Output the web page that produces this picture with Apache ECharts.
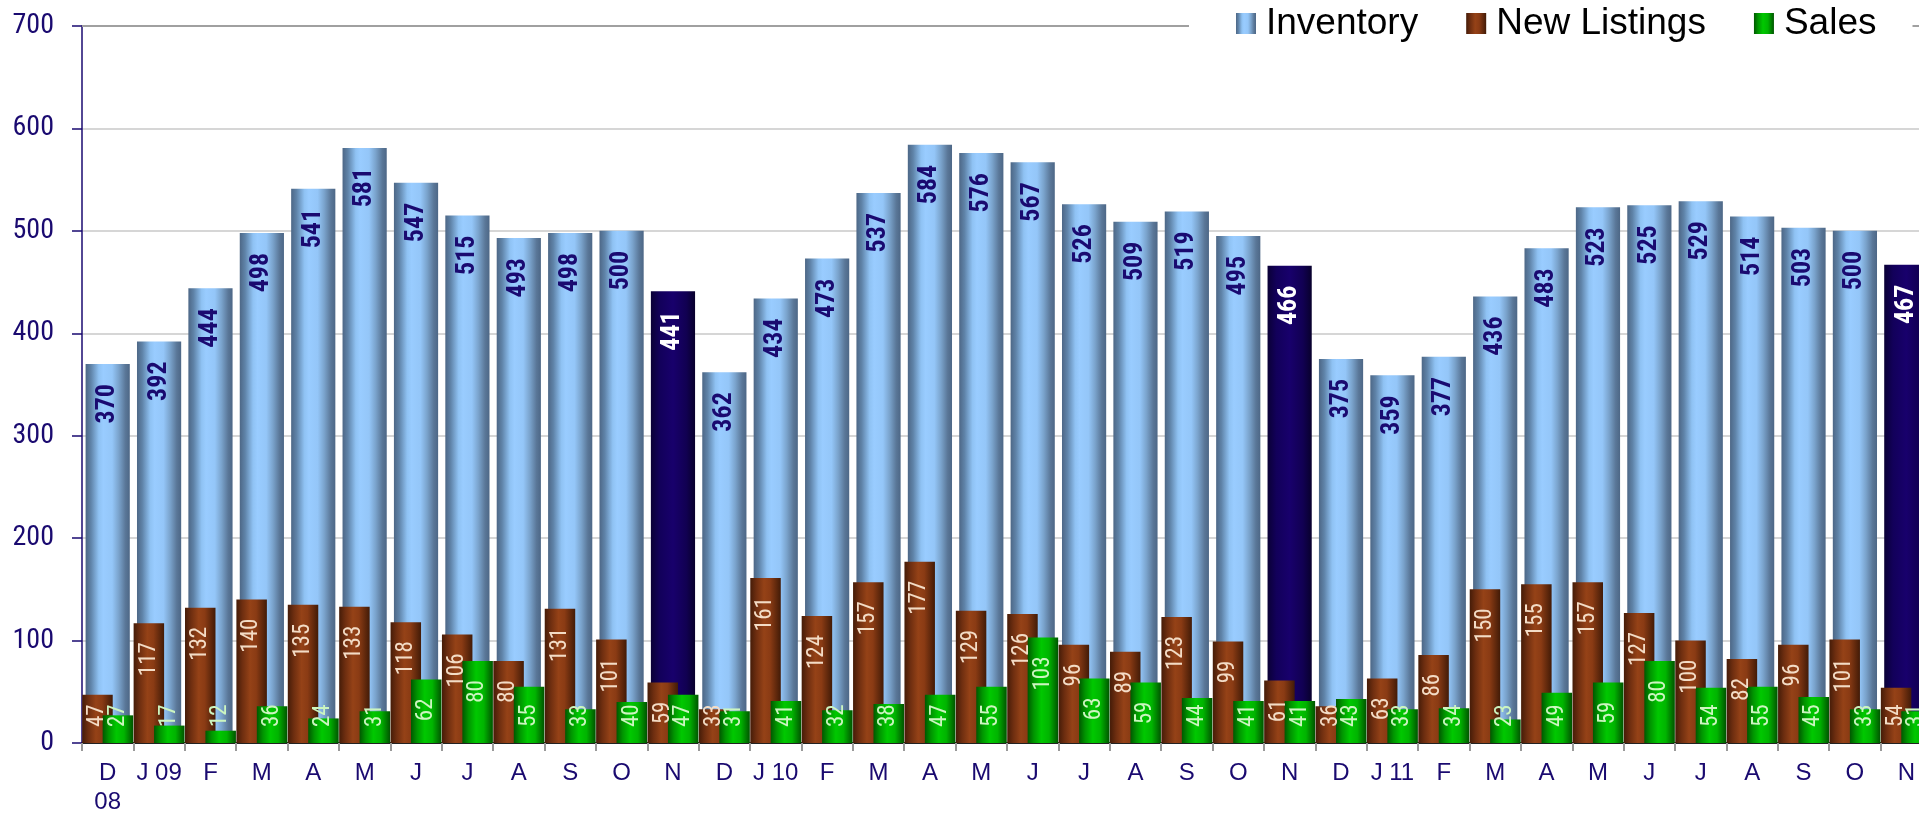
<!DOCTYPE html>
<html>
<head>
<meta charset="utf-8">
<script src="https://cdn.jsdelivr.net/npm/echarts@6/dist/echarts.min.js"></script>
<style>
html,body{margin:0;padding:0;overflow:hidden;background:#fff;}
#chart{width:1932px;height:817px;}
</style>
</head>
<body>
<div id="chart"></div>
<script>
// ---- data ----
const categories = ['D\n08','J 09','F','M','A','M','J','J','A','S','O','N',
                    'D','J 10','F','M','A','M','J','J','A','S','O','N',
                    'D','J 11','F','M','A','M','J','J','A','S','O','N'];
const inventory   = [370,392,444,498,541,581,547,515,493,498,500,441,
                     362,434,473,537,584,576,567,526,509,519,495,466,
                     375,359,377,436,483,523,525,529,514,503,500,467];
const newListings = [47,117,132,140,135,133,118,106,80,131,101,59,
                     33,161,124,157,177,129,126,96,89,123,99,61,
                     36,63,86,150,155,157,127,100,82,96,101,54];
const sales       = [27,17,12,36,24,31,62,80,55,33,40,47,
                     31,41,32,38,47,55,103,63,59,44,41,41,
                     43,33,34,23,49,59,80,54,55,45,33,31];
const yTicks = {min:0, max:700, interval:100};

// ---- styles ----
const NARROW = "'Roboto Condensed','Liberation Sans',Arial,sans-serif";
const SANS = "'Liberation Sans',Arial,sans-serif";
const NAVY = '#1a0a70';
function grad(stops){
  return new echarts.graphic.LinearGradient(0,0,1,0, stops.map(s=>({offset:s[0],color:s[1]})));
}
const invGrad = grad([[0,'#4d6786'],[0.12,'#5f83a8'],[0.3,'#8fc2f3'],[0.4,'#99ccff'],[0.6,'#94c6f8'],[0.75,'#7aa3cc'],[0.9,'#5a7798'],[1,'#4d6786']]);
const novGrad = grad([[0,'#0a0036'],[0.2,'#12005a'],[0.5,'#18006c'],[0.8,'#110052'],[1,'#08002c']]);
const brownGrad = grad([[0,'#451c08'],[0.2,'#6e2e10'],[0.45,'#954217'],[0.65,'#8a3b14'],[1,'#421b07']]);
const greenGrad = grad([[0,'#005800'],[0.2,'#009400'],[0.45,'#00c800'],[0.7,'#00b400'],[1,'#005400']]);

function shortLabel(v){
  // labels of short bars sit at the base instead of the top
  const len = String(v).length;
  return v < 35 + 11*len;
}
const baseLabel = {position:'insideBottom', align:'left', distance:16};

const invData = inventory.map((v,i)=> categories[i]==='N'
  ? {value:v, itemStyle:{color:novGrad}, label:{color:'#ffffff'}}
  : v);
const nlData = newListings.map(v=> shortLabel(v) ? {value:v, label:baseLabel} : v);
const salesData = sales.map(v=> shortLabel(v) ? {value:v, label:baseLabel} : v);

const topLabel = {show:true, rotate:90, position:'insideTop', distance:20, align:'right', verticalAlign:'middle'};

const chart = echarts.init(document.getElementById('chart'), null, {renderer:'canvas'});
chart.setOption({
  animation:false,
  grid:{left:82, right:0, top:26, bottom:71, containLabel:false},
  legend:{
    data:['Inventory','New Listings','Sales'],
    left:1189, top:3,
    padding:[2,36,2,47],
    backgroundColor:'#ffffff',
    itemWidth:20, itemHeight:21, itemGap:48,
    icon:'rect',
    textStyle:{fontFamily:SANS, fontSize:37, color:'#000', padding:[0,0,0,5]}
  },
  xAxis:[
    {type:'category', data:categories, position:'bottom',
     axisLine:{show:true, lineStyle:{color:'#222', width:2}},
     axisTick:{show:true, length:8, lineStyle:{color:'#999', width:2}},
     axisLabel:{interval:0, fontFamily:SANS, fontSize:24, color:NAVY, lineHeight:29, margin:16},
     splitLine:{show:false}},
    {type:'category', data:categories, position:'top',
     axisLine:{show:true, onZero:false, lineStyle:{color:'#a0a0a0', width:2}},
     axisTick:{show:false}, axisLabel:{show:false}, splitLine:{show:false}}
  ],
  yAxis:{type:'value', min:yTicks.min, max:yTicks.max, interval:yTicks.interval,
    axisLine:{show:true, lineStyle:{color:NAVY, width:1.5}},
    axisTick:{show:true, length:10, lineStyle:{color:NAVY, width:1.5}},
    axisLabel:{fontFamily:NARROW, fontSize:28, color:NAVY, margin:28},
    splitLine:{show:true, lineStyle:{color:'#c8c8c8', width:1.5}}
  },
  series:[
    {name:'Inventory', type:'bar', xAxisIndex:0, data:invData, barWidth:'86%',
     itemStyle:{color:invGrad},
     label:Object.assign({}, topLabel, {fontFamily:NARROW, fontSize:26, fontWeight:'bold', color:NAVY})},
    {name:'New Listings', type:'bar', xAxisIndex:1, data:nlData, barWidth:30.5, barGap:'-33%',
     itemStyle:{color:brownGrad},
     label:Object.assign({}, topLabel, {distance:19, fontFamily:NARROW, fontSize:23, color:'#f3dcc6'})},
    {name:'Sales', type:'bar', xAxisIndex:1, data:salesData, barWidth:30.5, barGap:'-33%',
     itemStyle:{color:greenGrad},
     label:Object.assign({}, topLabel, {distance:19, fontFamily:NARROW, fontSize:23, color:'#ccf5c0'})}
  ]
});
</script>
</body>
</html>
